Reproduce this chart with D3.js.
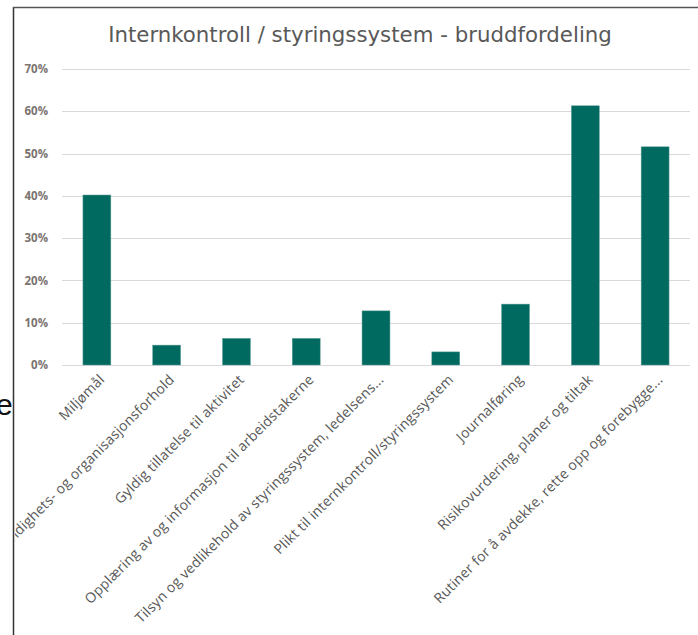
<!DOCTYPE html>
<html>
<head>
<meta charset="utf-8">
<script src="https://cdn.jsdelivr.net/npm/d3@7"></script>
<style>
  html, body { margin: 0; padding: 0; background: #fff; }
  svg { display: block; }
</style>
</head>
<body>
<svg id="chart" width="698" height="635"></svg>
<script>
// categories and share of breaches (percent)
const categories = [
  "Miljømål",
  "Myndighets- og organisasjonsforhold",
  "Gyldig tillatelse til aktivitet",
  "Opplæring av og informasjon til arbeidstakerne",
  "Tilsyn og vedlikehold av styringssystem, ledelsens...",
  "Plikt til internkontroll/styringssystem",
  "Journalføring",
  "Risikovurdering, planer og tiltak",
  "Rutiner for å avdekke, rette opp og forebygge..."
];
const values = [40.2, 4.7, 6.3, 6.3, 12.8, 3.1, 14.4, 61.3, 51.6];
const yTicks = [0, 10, 20, 30, 40, 50, 60, 70];
const title = "Internkontroll / styringssystem - bruddfordeling";

const svg = d3.select("#chart");
const margin = { top: 69, left: 62 };
const W = 698, H = 635;

// frame of the screenshot
svg.append("line").attr("x1", 13.5).attr("x2", 13.5).attr("y1", 7).attr("y2", H)
  .attr("stroke", "#333").attr("stroke-width", 1.5);
svg.append("line").attr("x1", 13).attr("x2", W).attr("y1", 7.5).attr("y2", 7.5)
  .attr("stroke", "#555").attr("stroke-width", 1.5);

// stray glyph left of the frame (cut off in the original screenshot too)
svg.append("text").attr("x", -4).attr("y", 415)
  .style("font-family", "Liberation Sans, sans-serif").style("font-size", "30px")
  .style("fill", "#111").text("e");

svg.append("defs").append("clipPath").attr("id", "clip")
  .append("rect").attr("x", 15).attr("y", 9).attr("width", W - 15).attr("height", H - 9);

const g = svg.append("g").attr("clip-path", "url(#clip)");

const x = d3.scaleBand()
  .domain(categories)
  .range([margin.left, 690])
  .paddingInner(0.6)
  .paddingOuter(0.3);

const y = d3.scaleLinear().domain([0, 70]).range([365, margin.top]);

// title
g.append("text")
  .attr("x", 360).attr("y", 42)
  .attr("text-anchor", "middle")
  .style("font-family", "DejaVu Sans, sans-serif")
  .style("font-size", "21.3px")
  .style("fill", "#595959")
  .text(title);

// gridlines
g.append("g").selectAll("line")
  .data(yTicks)
  .enter().append("line")
  .attr("x1", margin.left).attr("x2", 690)
  .attr("y1", d => Math.round(y(d)) + 0.5).attr("y2", d => Math.round(y(d)) + 0.5)
  .attr("stroke", "#d9d9d9").attr("stroke-width", 1);

// y axis
const yAxis = g.append("g")
  .attr("transform", "translate(51,0)")
  .call(d3.axisLeft(y).tickValues(yTicks).tickSize(0).tickFormat(d => d + "%"));
yAxis.select(".domain").remove();
yAxis.selectAll("text")
  .style("font-family", "Open Sans, sans-serif")
  .style("font-size", "11.5px")
  .style("font-weight", "bold")
  .style("fill", "#7a7370");

// bars
g.append("g").selectAll("rect")
  .data(values)
  .enter().append("rect")
  .attr("x", (d, i) => x(categories[i]))
  .attr("y", d => y(d))
  .attr("width", x.bandwidth())
  .attr("height", d => y(0) - y(d))
  .attr("fill", "#006a60")
  .attr("stroke", "#5f9e97")
  .attr("stroke-width", 0.5);

// x labels
g.append("g").selectAll("text")
  .data(categories)
  .enter().append("text")
  .attr("transform", d => `translate(${x(d) + x.bandwidth() / 2 + 5},${377}) rotate(-45)`)
  .attr("text-anchor", "end")
  .attr("dy", "0.35em")
  .style("font-family", "Open Sans, sans-serif")
  .style("font-size", "14px")
  .style("letter-spacing", "0.2px")
  .style("fill", "#595959")
  .text(d => d);
</script>
</body>
</html>
